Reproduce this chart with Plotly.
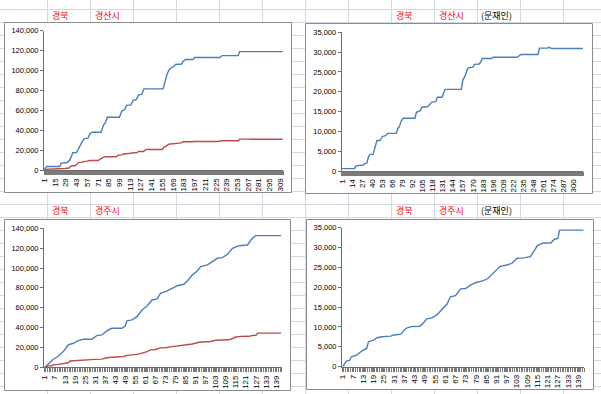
import plotly.graph_objects as go

W, H = 601, 394

# ---------------- data ----------------
# 경북 경산시 (categories 1..312)
GS_N = 312
gs_total_x = [1, 4, 21, 23, 31, 34, 37, 38, 43, 47, 50, 53, 58, 60, 63, 75, 78, 81, 83, 99,
              102, 106, 108, 114, 117, 121, 124, 128, 131, 156, 158, 161, 164, 167, 170, 172,
              180, 182, 185, 195, 197, 230, 233, 254, 256, 312]
gs_total_y = [1000, 3500, 3500, 7000, 7500, 10000, 15000, 17500, 17500, 24000, 28000, 31500,
              32000, 36000, 38000, 38000, 45000, 48000, 53000, 53000, 59000, 61000, 65000,
              65500, 70000, 71000, 75500, 76000, 81500, 81500, 88000, 96000, 101000, 103000,
              104000, 106000, 106500, 109000, 111000, 111000, 113000, 113000, 115000, 115000,
              119000, 119000]
gs_moon_x = [1, 17, 19, 28, 30, 33, 35, 37, 41, 44, 46, 50, 53, 57, 60, 71, 73, 75, 77, 80,
             95, 97, 100, 102, 104, 111, 114, 117, 122, 124, 130, 132, 134, 155, 157, 159, 161,
             163, 165, 170, 172, 178, 180, 182, 194, 196, 227, 232, 254, 256, 266, 268, 272, 312]
gs_moon_y = [600, 600, 1300, 1500, 1800, 2000, 3500, 4200, 4200, 6500, 7700, 7700, 8700, 8900,
             9500, 9500, 10800, 11200, 12500, 13300, 13300, 14800, 15000, 15200, 16100, 16200,
             16800, 17400, 17500, 18600, 18600, 19500, 20600, 20600, 23000, 23600, 25000, 25800,
             26100, 26200, 26900, 27000, 27500, 28400, 28400, 28700, 28700, 29400, 29400, 31000,
             31000, 31200, 30900, 30900]

# 경북 경주시 (categories 1..142)
GJ_N = 142
gj_total_x = [1, 3, 6, 9, 12, 15, 18, 21, 24, 29, 32, 35, 38, 41, 47, 49, 50, 53, 56, 59,
              62, 65, 68, 70, 74, 77, 80, 84, 86, 89, 92, 94, 98, 101, 104, 107, 110, 113,
              117, 122, 124, 126, 127, 142]
gj_total_y = [0, 3000, 8100, 11100, 15800, 22500, 24200, 26900, 28200, 28200, 31900, 32600,
              36600, 39300, 39300, 41600, 46700, 47700, 51000, 57700, 61800, 67800, 68800,
              74500, 76900, 79600, 82200, 83600, 86900, 93000, 97000, 101400, 103100, 106400,
              109800, 110400, 113800, 119800, 122500, 123200, 128200, 131600, 132600, 132600]
gj_moon_x = [1, 3, 5, 6, 9, 11, 13, 15, 16, 19, 21, 24, 29, 31, 35, 38, 41, 46, 48, 50,
             53, 56, 59, 62, 64, 67, 70, 73, 76, 79, 83, 86, 89, 93, 97, 100, 103, 107, 111,
             113, 115, 118, 123, 125, 127, 128, 142]
gj_moon_y = [0, 1400, 1600, 2500, 2900, 3600, 4200, 4600, 6300, 6700, 7300, 7550, 7700, 8000,
             8200, 9650, 10100, 10200, 10900, 12000, 12300, 13000, 14300, 15700, 17600, 17900,
             19600, 19700, 20600, 21200, 21600, 22200, 23500, 25200, 25600, 26000, 27300,
             27400, 27700, 29000, 30500, 31100, 31200, 32100, 32300, 34400, 34400]

# tick labels
gs_ticks_left = [1, 15, 29, 43, 57, 71, 85, 99, 113, 127, 141, 155, 169, 183, 197, 211, 225,
                 239, 253, 267, 281, 295, 309]
gs_ticks_right = [1, 14, 27, 40, 53, 66, 79, 92, 105, 118, 131, 144, 157, 170, 183, 196, 209,
                  222, 235, 248, 261, 274, 287, 300]
gj_ticks = [1, 7, 13, 19, 25, 31, 37, 43, 49, 55, 61, 67, 73, 79, 85, 91, 97, 103, 109, 115,
            121, 127, 133, 139]
total_yticks = [0, 20000, 40000, 60000, 80000, 100000, 120000, 140000]
moon_yticks = [0, 5000, 10000, 15000, 20000, 25000, 30000, 35000]

header_left = ["경북", "경산시"]
header_left2 = ["경북", "경주시"]
header_right = ["경북", "경산시", "(문재인)"]
header_right2 = ["경북", "경주시", "(문재인)"]

# ---------------- styling ----------------
BLUE = "#4A7EBB"
RED = "#BE4B48"
GRID = "#D3D9E3"
FRAME = "#8A8A8A"
AXIS = "#6E6E6E"
TICKC = "#7A7A7A"
FONT = "Liberation Sans"
KFONT = "Noto Sans CJK KR"


def fx(px):
    return px / W


def fy(py):
    return 1 - py / H


fig = go.Figure()

charts = [
    dict(plot=(44, 30.7, 283, 170), frame=(4.5, 22.5, 291.5, 192.5), n=GS_N,
         xt=gs_ticks_left, yt=total_yticks, ymax=140000,
         series=[(gs_total_x, gs_total_y, BLUE), (gs_moon_x, gs_moon_y, RED)],
         header=header_left, hy=15),
    dict(plot=(341.7, 32.3, 583.3, 171), frame=(305.5, 23.5, 592.5, 193.5), n=GS_N,
         xt=gs_ticks_right, yt=moon_yticks, ymax=35000,
         series=[(gs_moon_x, gs_moon_y, BLUE)],
         header=header_right, hy=15),
    dict(plot=(44, 228.3, 281.9, 367.3), frame=(4.5, 219.5, 290.5, 390.5), n=GJ_N,
         xt=gj_ticks, yt=total_yticks, ymax=140000,
         series=[(gj_total_x, gj_total_y, BLUE), (gj_moon_x, gj_moon_y, RED)],
         header=header_left2, hy=210),
    dict(plot=(342, 227.7, 584.3, 366.7), frame=(306.5, 219.5, 593.5, 389.5), n=GJ_N,
         xt=gj_ticks, yt=moon_yticks, ymax=35000,
         series=[(gj_moon_x, gj_moon_y, BLUE)],
         header=header_right2, hy=210),
]

shapes = []
for k in range(13):
    x = 47.5 + 43 * k
    shapes.append(dict(type="line", xref="paper", yref="paper", x0=fx(x), x1=fx(x),
                       y0=0, y1=1, line=dict(color=GRID, width=1), layer="below"))
for k in range(30):
    y = 9.5 + 13 * k
    shapes.append(dict(type="line", xref="paper", yref="paper", x0=0, x1=1,
                       y0=fy(y), y1=fy(y), line=dict(color=GRID, width=1), layer="below"))

annotations = []
layout_axes = {}
header_x_left = [50, 93]
header_x_right = [394, 437, 479]

for i, c in enumerate(charts, start=1):
    x0, y0, x1, y1 = c["plot"]
    fx0, fy0, fx1, fy1 = c["frame"]
    shapes.append(dict(type="rect", xref="paper", yref="paper",
                       x0=fx(fx0), x1=fx(fx1), y0=fy(fy1), y1=fy(fy0),
                       line=dict(color=FRAME, width=1), fillcolor="white", layer="below"))
    xa = "x" if i == 1 else f"x{i}"
    ya = "y" if i == 1 else f"y{i}"
    for sx, sy, col in c["series"]:
        fig.add_trace(go.Scatter(x=sx, y=sy, mode="lines", xaxis=xa, yaxis=ya,
                                 line=dict(color=col, width=1.4), hoverinfo="skip"))
    xkey = "xaxis" if i == 1 else f"xaxis{i}"
    ykey = "yaxis" if i == 1 else f"yaxis{i}"
    layout_axes[xkey] = dict(
        domain=[fx(x0), fx(x1)], anchor=ya, range=[0.5, c["n"] + 0.5], automargin=False,
        showgrid=False, zeroline=False, showline=True, linecolor=AXIS, linewidth=1,
        tickmode="array", tickvals=c["xt"], ticktext=[str(v) for v in c["xt"]],
        ticks="outside", ticklen=4, tickcolor=TICKC, tickwidth=1,
        tickangle=-90, tickfont=dict(family=FONT, size=8, color="black"),
        minor=dict(ticks="outside", ticklen=4, tickcolor=TICKC, tickwidth=1,
                   tickmode="linear", tick0=0.5, dtick=1, showgrid=False),
        fixedrange=True,
    )
    layout_axes[ykey] = dict(
        domain=[fy(y1), fy(y0)], anchor=xa, range=[0, c["ymax"]], automargin=False,
        showgrid=False, zeroline=False, showline=True, linecolor=AXIS, linewidth=1,
        tickmode="array", tickvals=c["yt"], ticktext=[f"{v:,}" for v in c["yt"]],
        ticks="outside", ticklen=3, tickcolor=AXIS,
        tickfont=dict(family=FONT, size=7.5, color="black"), fixedrange=True,
    )
    hx = header_x_left if c["yt"] is total_yticks else header_x_right
    for j, txt in enumerate(c["header"]):
        annotations.append(dict(
            text=txt, x=fx(hx[j]), y=fy(c["hy"]), xref="paper", yref="paper",
            xanchor="left", yanchor="middle", showarrow=False,
            font=dict(family=KFONT, size=9, color="black" if txt.startswith("(") else "#FF0000")))

fig.update_layout(
    template="none",
    width=W, height=H, margin=dict(l=0, r=0, t=0, b=0, pad=0, autoexpand=False),
    paper_bgcolor="white", plot_bgcolor="rgba(0,0,0,0)",
    showlegend=False, shapes=shapes, annotations=annotations, **layout_axes,
)

fig.write_html("out.html", config={"displayModeBar": False},
               post_script="document.body.style.margin='0';document.body.style.overflow='hidden';")
